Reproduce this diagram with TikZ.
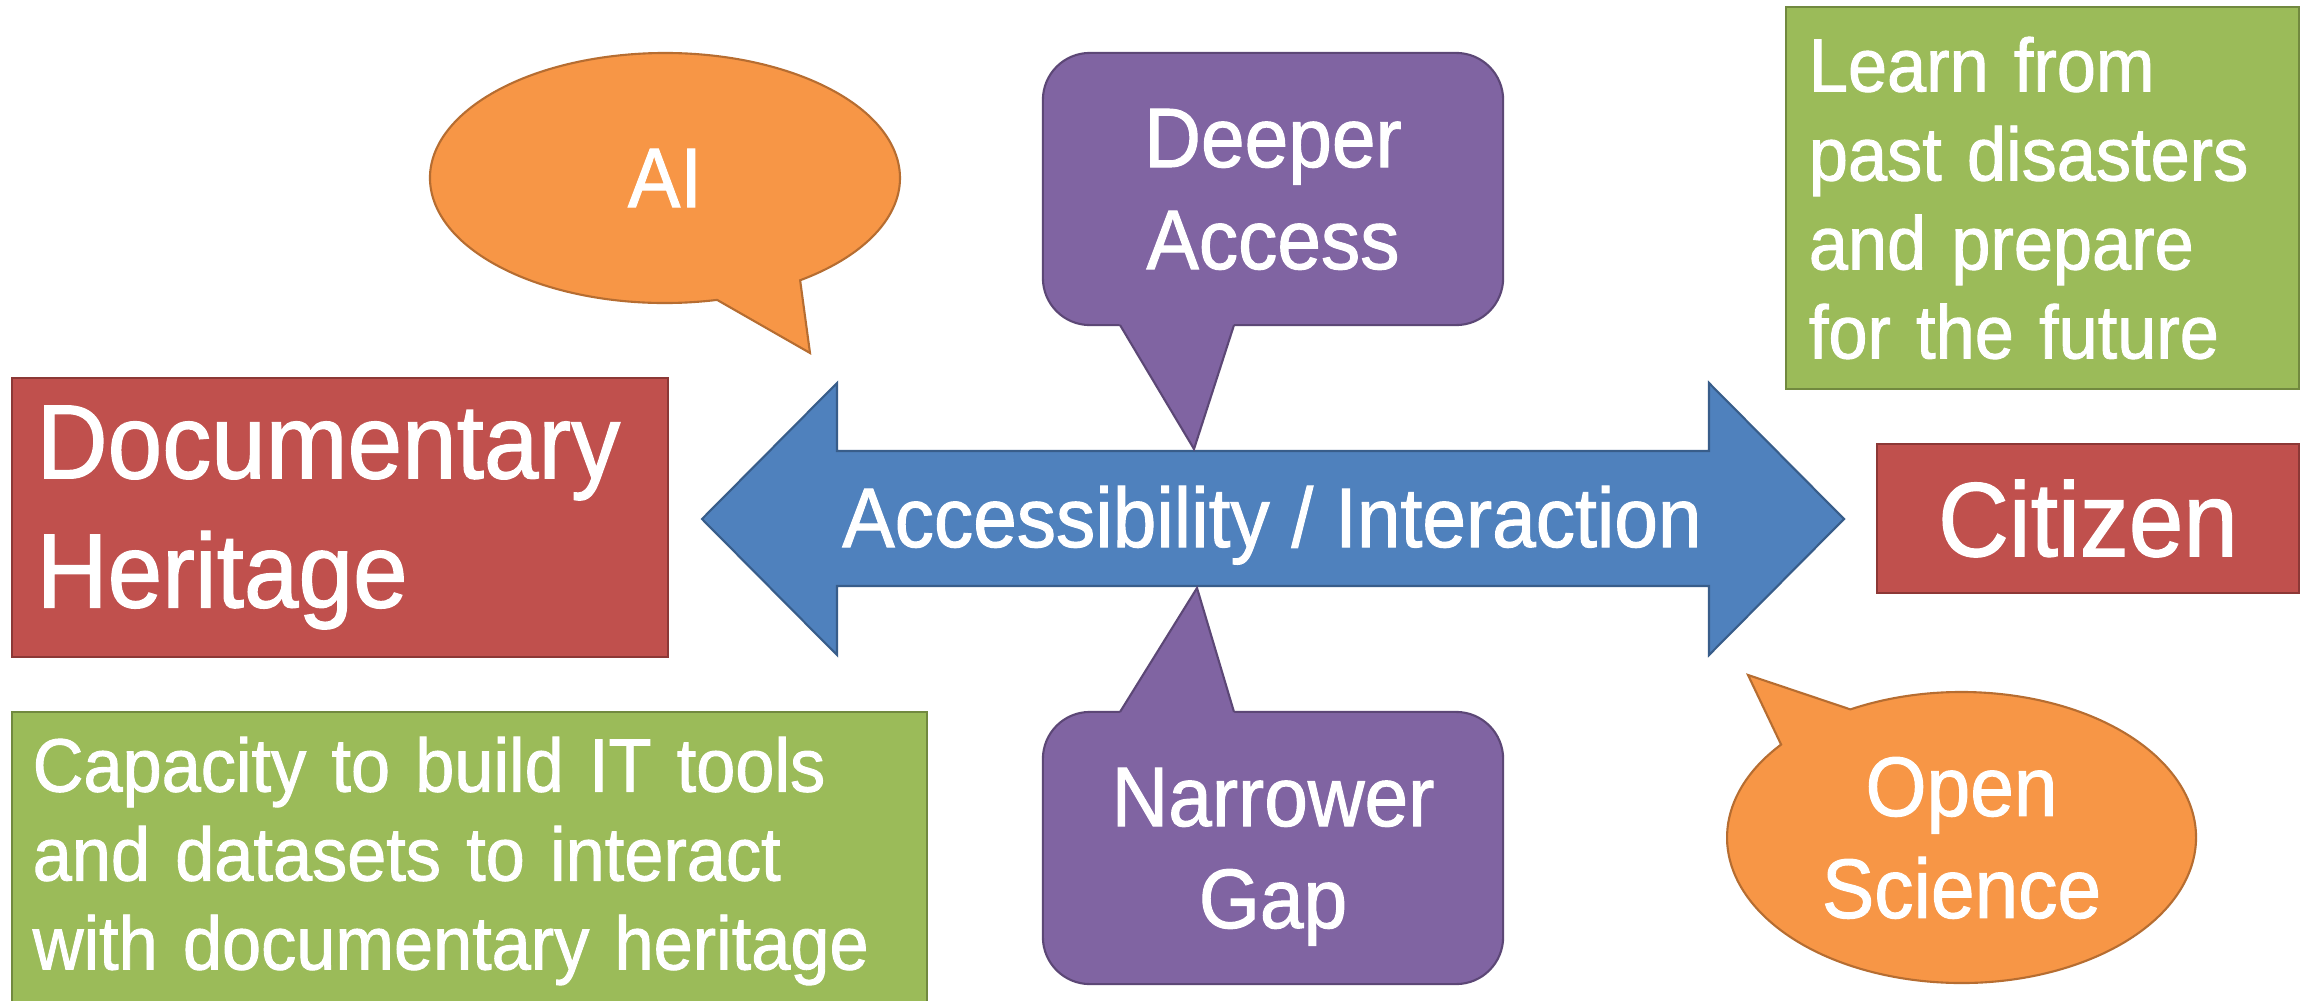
\documentclass[tikz,border=0pt]{standalone}
\usepackage{fontspec}
\setmainfont[FakeStretch=0.93,FakeBold=1.2]{Liberation Sans}
\definecolor{boxred}{HTML}{C0504D}
\definecolor{boxredline}{HTML}{8C3836}
\definecolor{boxgreen}{HTML}{9BBB59}
\definecolor{boxgreenline}{HTML}{71893F}
\definecolor{callpurple}{HTML}{8064A2}
\definecolor{callpurpleline}{HTML}{5C4776}
\definecolor{callorange}{HTML}{F79646}
\definecolor{callorangeline}{HTML}{B66D31}
\definecolor{arrowblue}{HTML}{4F81BD}
\definecolor{arrowblueline}{HTML}{385D8A}
\begin{document}
\begin{tikzpicture}
[x=0.01cm,y=-0.01cm,
  bigtext/.style={font=\fontsize{30pt}{36.7pt}\selectfont},%
  midtext/.style={font=\fontsize{24pt}{29pt}\selectfont},%
  smalltext/.style={font=\fontsize{21.5pt}{25.3pt}\selectfont},%
  redbox/.style={shape=rectangle,draw=boxredline,fill=boxred,line width=0.6pt,text=white,bigtext},%
  greenbox/.style={shape=rectangle,draw=boxgreenline,fill=boxgreen,line width=0.6pt,text=white,align=left,smalltext},%
  purplecall/.style={shape=rectangle,draw=callpurpleline,fill=callpurple,line width=0.6pt,rounded corners=0.47cm,text=white,align=center,text depth=0pt,minimum width=4.6cm,minimum height=2.72cm,midtext},%
  orangecall/.style={draw=callorangeline,fill=callorange,line width=0.6pt},%
  calltext/.style={text=white,align=center,text depth=0pt,midtext}]
\path[fill=white] (0,0) rectangle (2313,1000);
\useasboundingbox (0,0) rectangle (2313,1000);
%% red boxes
\node (heritage) at (340,517.5) [redbox,minimum width=6.56cm,minimum height=2.79cm,text width=6.06cm,align=left,inner xsep=0.25cm] {Documentary\\Heritage};
\node (citizen) at (2088,518.5) [redbox,minimum width=4.22cm,minimum height=1.49cm] {Citizen};
%% green boxes
\node (learn) at (2042.5,198) [greenbox,minimum width=5.13cm,minimum height=3.82cm,text width=4.67cm,inner xsep=0.23cm] {Learn from\\past disasters\\and prepare\\for the future};
\node (capacity) at (469.5,861) [greenbox,minimum width=9.15cm,minimum height=2.98cm,text width=8.73cm,inner xsep=0.21cm] {Capacity to build IT tools\\and datasets to interact\\with documentary heritage};
%% double arrow
\draw[draw=arrowblueline,fill=arrowblue,line width=0.6pt] (702,519) -- (837,383) -- (837,451) -- (1709,451) -- (1709,383) -- (1844,519) -- (1709,655) -- (1709,586) -- (837,586) -- (837,655) -- cycle;
\node (access) at (1272,547) [anchor=base,text=white,midtext] {Accessibility / Interaction};
%% purple callouts and their tails
\node (deeper) at (1273,189) [purplecall] {Deeper\\Access};
\node (narrower) at (1273,848) [purplecall] {Narrower\\Gap};
\foreach \callname/\tipx/\tipy/\basey/\covery in {deeper/1194/449/325/315, narrower/1197/588/712/722} {
  \coordinate (\callname tip) at (\tipx,\tipy);
  \fill[callpurple] (1114,\covery) -- (\callname tip) -- (1237,\covery) -- cycle;
  \draw[callpurpleline,line width=0.6pt] (1120,\basey) -- (\callname tip) -- (1234,\basey);
}
%% orange speech bubbles
\coordinate (aicentre) at (665,178);
\coordinate (aitip) at (810,353);
\draw[orangecall] (aicentre) ++(77.2:235 and 125) arc[start angle=77.2,end angle=414.9,x radius=235,y radius=125] -- (aitip) -- cycle;
\node (ai) at (aicentre) [calltext] {AI};
\coordinate (opencentre) at (1961.5,837.5);
\coordinate (opentip) at (1748,675);
\draw[orangecall] (opencentre) ++(241.7:234.5 and 145.5) arc[start angle=241.7,end angle=579.7,x radius=234.5,y radius=145.5] -- (opentip) -- cycle;
\node (openscience) at (opencentre) [calltext] {Open\\Science};
\end{tikzpicture}
\end{document}
